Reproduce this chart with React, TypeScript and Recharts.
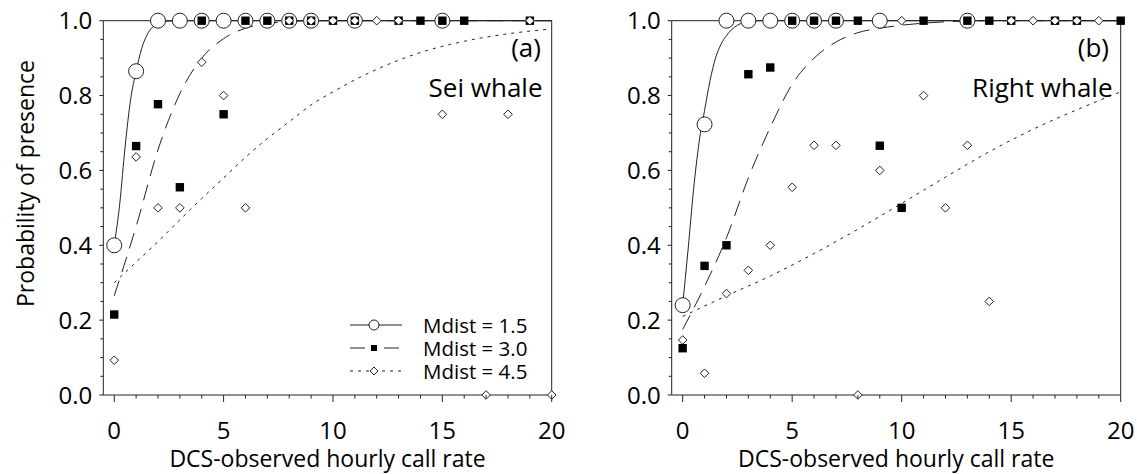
import React from "react";
import {
  ComposedChart,
  Line,
  Scatter,
  XAxis,
  YAxis,
} from "recharts";

// tick positions
const xMinorTicks = [0, 1, 2, 3, 4, 5, 6, 7, 8, 9, 10, 11, 12, 13, 14, 15, 16, 17, 18, 19, 20];
const xMajorTicks = [0, 5, 10, 15, 20];
const yTicks = [0, 0.05, 0.1, 0.15, 0.2, 0.25, 0.3, 0.35, 0.4, 0.45, 0.5, 0.55, 0.6, 0.65, 0.7, 0.75, 0.8, 0.85, 0.9, 0.95, 1];
const yLabelTicks = [0, 0.2, 0.4, 0.6, 0.8, 1];

// (a) Sei whale - observed points
const seiM15 = [
  { x: 0, y: 0.4 }, { x: 1, y: 0.865 }, { x: 2, y: 1 }, { x: 3, y: 1 }, { x: 4, y: 1 },
  { x: 5, y: 1 }, { x: 6, y: 1 }, { x: 7, y: 1 }, { x: 8, y: 1 }, { x: 9, y: 1 },
  { x: 11, y: 1 }, { x: 15, y: 1 },
];
const seiM30 = [
  { x: 0, y: 0.215 }, { x: 1, y: 0.665 }, { x: 2, y: 0.777 }, { x: 3, y: 0.555 }, { x: 4, y: 1 },
  { x: 5, y: 0.75 }, { x: 6, y: 1 }, { x: 7, y: 1 }, { x: 8, y: 1 }, { x: 9, y: 1 },
  { x: 10, y: 1 }, { x: 11, y: 1 }, { x: 13, y: 1 }, { x: 14, y: 1 }, { x: 15, y: 1 },
  { x: 16, y: 1 }, { x: 19, y: 1 },
];
const seiM45 = [
  { x: 0, y: 0.093 }, { x: 1, y: 0.636 }, { x: 2, y: 0.5 }, { x: 3, y: 0.5 }, { x: 4, y: 0.889 },
  { x: 5, y: 0.8 }, { x: 6, y: 0.5 }, { x: 8, y: 1 }, { x: 9, y: 1 }, { x: 10, y: 1 },
  { x: 11, y: 1 }, { x: 12, y: 1 }, { x: 13, y: 1 }, { x: 15, y: 0.75 }, { x: 17, y: 0 },
  { x: 18, y: 0.75 }, { x: 19, y: 1 }, { x: 20, y: 0 },
];

// (a) Sei whale - fitted curves
const seiFit15 = [
  { x: 0, y: 0.4 }, { x: 0.25, y: 0.51 }, { x: 0.5, y: 0.665 }, { x: 0.75, y: 0.79 },
  { x: 1, y: 0.865 }, { x: 1.25, y: 0.925 }, { x: 1.5, y: 0.962 }, { x: 1.75, y: 0.983 },
  { x: 2, y: 0.993 }, { x: 2.5, y: 0.999 }, { x: 3, y: 1 }, { x: 20, y: 1 },
];
const seiFit30 = [
  { x: 0, y: 0.265 }, { x: 1, y: 0.45 }, { x: 2, y: 0.655 }, { x: 3, y: 0.805 },
  { x: 4, y: 0.9 }, { x: 5, y: 0.952 }, { x: 6, y: 0.98 }, { x: 7, y: 0.992 },
  { x: 8, y: 0.998 }, { x: 9, y: 1 }, { x: 20, y: 1 },
];
const seiFit45 = [
  { x: 0, y: 0.3 }, { x: 1, y: 0.355 }, { x: 2, y: 0.41 }, { x: 3, y: 0.468 },
  { x: 4, y: 0.525 }, { x: 5, y: 0.58 }, { x: 6, y: 0.635 }, { x: 7, y: 0.685 },
  { x: 8, y: 0.73 }, { x: 9, y: 0.775 }, { x: 10, y: 0.81 }, { x: 12, y: 0.87 },
  { x: 14, y: 0.915 }, { x: 16, y: 0.945 }, { x: 18, y: 0.965 }, { x: 20, y: 0.978 },
];

// (b) Right whale - observed points
const rightM15 = [
  { x: 0, y: 0.24 }, { x: 1, y: 0.723 }, { x: 2, y: 1 }, { x: 3, y: 1 }, { x: 4, y: 1 },
  { x: 5, y: 1 }, { x: 6, y: 1 }, { x: 7, y: 1 }, { x: 9, y: 1 }, { x: 13, y: 1 },
];
const rightM30 = [
  { x: 0, y: 0.125 }, { x: 1, y: 0.345 }, { x: 2, y: 0.4 }, { x: 3, y: 0.857 }, { x: 4, y: 0.875 },
  { x: 5, y: 1 }, { x: 6, y: 1 }, { x: 7, y: 1 }, { x: 8, y: 1 }, { x: 9, y: 0.666 },
  { x: 10, y: 0.5 }, { x: 11, y: 1 }, { x: 13, y: 1 }, { x: 14, y: 1 }, { x: 15, y: 1 },
  { x: 17, y: 1 }, { x: 18, y: 1 }, { x: 20, y: 1 },
];
const rightM45 = [
  { x: 0, y: 0.147 }, { x: 1, y: 0.058 }, { x: 2, y: 0.271 }, { x: 3, y: 0.333 }, { x: 4, y: 0.4 },
  { x: 5, y: 0.555 }, { x: 6, y: 0.667 }, { x: 7, y: 0.667 }, { x: 8, y: 0 }, { x: 9, y: 0.6 },
  { x: 10, y: 1 }, { x: 11, y: 0.8 }, { x: 12, y: 0.5 }, { x: 13, y: 0.667 }, { x: 14, y: 0.25 },
  { x: 15, y: 1 }, { x: 16, y: 1 }, { x: 17, y: 1 }, { x: 18, y: 1 }, { x: 19, y: 1 },
];

// (b) Right whale - fitted curves
const rightFit15 = [
  { x: 0, y: 0.24 }, { x: 0.25, y: 0.39 }, { x: 0.5, y: 0.55 }, { x: 0.75, y: 0.675 },
  { x: 1, y: 0.76 }, { x: 1.25, y: 0.84 }, { x: 1.5, y: 0.9 }, { x: 1.75, y: 0.937 },
  { x: 2, y: 0.96 }, { x: 2.5, y: 0.988 }, { x: 3, y: 0.997 }, { x: 3.5, y: 1 }, { x: 20, y: 1 },
];
const rightFit30 = [
  { x: 0, y: 0.175 }, { x: 1, y: 0.29 }, { x: 2, y: 0.42 }, { x: 3, y: 0.58 },
  { x: 4, y: 0.715 }, { x: 5, y: 0.83 }, { x: 6, y: 0.9 }, { x: 7, y: 0.943 },
  { x: 8, y: 0.968 }, { x: 9, y: 0.98 }, { x: 10, y: 0.988 }, { x: 12, y: 0.997 },
  { x: 14, y: 1 }, { x: 20, y: 1 },
];
const rightFit45 = [
  { x: 0, y: 0.21 }, { x: 2, y: 0.265 }, { x: 4, y: 0.318 }, { x: 6, y: 0.378 },
  { x: 8, y: 0.443 }, { x: 10, y: 0.512 }, { x: 12, y: 0.582 }, { x: 14, y: 0.65 },
  { x: 16, y: 0.71 }, { x: 18, y: 0.762 }, { x: 20, y: 0.81 },
];

const FONT = "'Open Sans', sans-serif";
const TICK_FS = 24;
const INK = "#222";

const W = 568;
const H = 474;

const CircleDot = (p: any) => (
  <circle cx={p.cx} cy={p.cy} r={7.5} fill="#fff" stroke={INK} strokeWidth={1} />
);
const SquareDot = (p: any) => (
  <rect x={p.cx - 4.2} y={p.cy - 4.2} width={8.4} height={8.4} fill="#000" />
);
const DiamondDot = (p: any) => (
  <path
    d={`M${p.cx},${p.cy - 4.3}L${p.cx + 4.3},${p.cy}L${p.cx},${p.cy + 4.3}L${p.cx - 4.3},${p.cy}Z`}
    fill="#fff"
    stroke={INK}
    strokeWidth={1}
  />
);

const BottomTick = (p: any) => {
  const v = p.payload.value;
  const major = xMajorTicks.includes(v);
  return (
    <g>
      <line x1={p.x} x2={p.x} y1={p.y} y2={p.y + (major ? 7 : 3.5)} stroke={INK} />
      {major && (
        <text x={p.x} y={p.y + 44} textAnchor="middle" fontFamily={FONT} fontSize={TICK_FS} fill="#000">
          {v}
        </text>
      )}
    </g>
  );
};
const TopTick = (p: any) => {
  const major = xMajorTicks.includes(p.payload.value);
  return <line x1={p.x} x2={p.x} y1={p.y} y2={p.y - (major ? 7 : 3.5)} stroke={INK} />;
};
const LeftTick = (p: any) => {
  const v = p.payload.value;
  const lab = yLabelTicks.some((t) => Math.abs(t - v) < 1e-6);
  return (
    <g>
      <line x1={p.x - (lab ? 4 : 3)} x2={p.x} y1={p.y} y2={p.y} stroke={INK} />
      {lab && (
        <text x={p.x - 11} y={p.y + 8.5} textAnchor="end" fontFamily={FONT} fontSize={TICK_FS} fill="#000">
          {v.toFixed(1)}
        </text>
      )}
    </g>
  );
};
const RightTick = (p: any) => (
  <line x1={p.x} x2={p.x + 3} y1={p.y} y2={p.y} stroke={INK} />
);

interface PanelProps {
  fits: { x: number; y: number }[][];
  m15: { x: number; y: number }[];
  m30: { x: number; y: number }[];
  m45: { x: number; y: number }[];
  leftWidth: number;
  rightWidth: number;
  width: number;
}

const Panel: React.FC<PanelProps> = ({ fits, m15, m30, m45, leftWidth, rightWidth, width }) => (
  <ComposedChart width={width} height={H} margin={{ top: 0, right: 0, bottom: 0, left: 0 }}>
    <XAxis
      xAxisId="b"
      type="number"
      dataKey="x"
      domain={[-0.5, 20]}
      ticks={xMinorTicks}
      interval={0}
      height={H - 395}
      tickSize={0}
      tickMargin={0}
      tick={BottomTick}
      stroke={INK}
    />
    <XAxis
      xAxisId="t"
      orientation="top"
      type="number"
      dataKey="x"
      domain={[-0.5, 20]}
      ticks={xMinorTicks}
      interval={0}
      height={20.7}
      tickSize={0}
      tickMargin={0}
      tick={TopTick}
      stroke={INK}
    />
    <YAxis
      yAxisId="l"
      type="number"
      domain={[0, 1]}
      ticks={yTicks}
      interval={0}
      width={leftWidth}
      tickSize={0}
      tickMargin={0}
      tick={LeftTick}
      stroke={INK}
    />
    <YAxis
      yAxisId="r"
      orientation="right"
      type="number"
      domain={[0, 1]}
      ticks={yTicks}
      interval={0}
      width={rightWidth}
      tickSize={0}
      tickMargin={0}
      tick={RightTick}
      stroke={INK}
    />
    <Line xAxisId="b" yAxisId="l" data={fits[0]} dataKey="y" type="monotone" stroke={INK} strokeWidth={1} dot={false} isAnimationActive={false} />
    <Line xAxisId="b" yAxisId="l" data={fits[1]} dataKey="y" type="monotone" stroke={INK} strokeWidth={1} strokeDasharray="16 9" dot={false} isAnimationActive={false} />
    <Line xAxisId="b" yAxisId="l" data={fits[2]} dataKey="y" type="monotone" stroke={INK} strokeWidth={1} strokeDasharray="3 5" dot={false} isAnimationActive={false} />
    <Scatter xAxisId="b" yAxisId="l" data={m15} dataKey="y" shape={CircleDot} isAnimationActive={false} />
    <Scatter xAxisId="b" yAxisId="l" data={m30} dataKey="y" shape={SquareDot} isAnimationActive={false} />
    <Scatter xAxisId="b" yAxisId="l" data={m45} dataKey="y" shape={DiamondDot} isAnimationActive={false} />
  </ComposedChart>
);

const legendRows = ["Mdist = 1.5", "Mdist = 3.0", "Mdist = 4.5"];

export default function App() {
  const axisText = { fontFamily: FONT, fontSize: 23, fill: "#000" };
  const tagText = { fontFamily: FONT, fontSize: 26, fill: "#000" };
  const legText = { fontFamily: FONT, fontSize: 20.5, fill: "#000" };
  return (
    <div style={{ position: "absolute", left: 0, top: 0, width: 1137, height: H, background: "#fff" }}>
      <div style={{ position: "absolute", left: 0, top: 0 }}>
        <Panel fits={[seiFit15, seiFit30, seiFit45]} m15={seiM15} m30={seiM30} m45={seiM45} leftWidth={103.3} rightWidth={16.3} width={W} />
      </div>
      <div style={{ position: "absolute", left: W, top: 0 }}>
        <Panel fits={[rightFit15, rightFit30, rightFit45]} m15={rightM15} m30={rightM30} m45={rightM45} leftWidth={103.7} rightWidth={16.3} width={1137 - W} />
      </div>
      <svg width={1137} height={H} style={{ position: "absolute", left: 0, top: 0, pointerEvents: "none" }}>
        <text transform="translate(33.5,183.5) rotate(-90)" textAnchor="middle" {...axisText}>
          Probability of presence
        </text>
        <text x={327.5} y={467} textAnchor="middle" {...axisText}>DCS-observed hourly call rate</text>
        <text x={896.2} y={467} textAnchor="middle" {...axisText}>DCS-observed hourly call rate</text>

        <text x={541} y={57} textAnchor="end" {...tagText}>(a)</text>
        <text x={542.5} y={96.5} textAnchor="end" {...tagText}>Sei whale</text>
        <text x={1109} y={57} textAnchor="end" {...tagText}>(b)</text>
        <text x={1112.5} y={96.5} textAnchor="end" {...tagText}>Right whale</text>

        {/* legend */}
        <line x1={350} x2={402} y1={325} y2={325} stroke={INK} />
        <circle cx={374} cy={325} r={5} fill="#fff" stroke={INK} />
        <line x1={350} x2={402} y1={348} y2={348} stroke={INK} strokeDasharray="15 19 15" />
        <rect x={371} y={345} width={6} height={6} fill="#000" />
        <line x1={350} x2={402} y1={371} y2={371} stroke={INK} strokeDasharray="3 5" />
        <path d="M374,367L378,371L374,375L370,371Z" fill="#fff" stroke={INK} />
        {legendRows.map((r, i) => (
          <text key={r} x={423} y={332.5 + i * 23} {...legText}>{r}</text>
        ))}
      </svg>
    </div>
  );
}
